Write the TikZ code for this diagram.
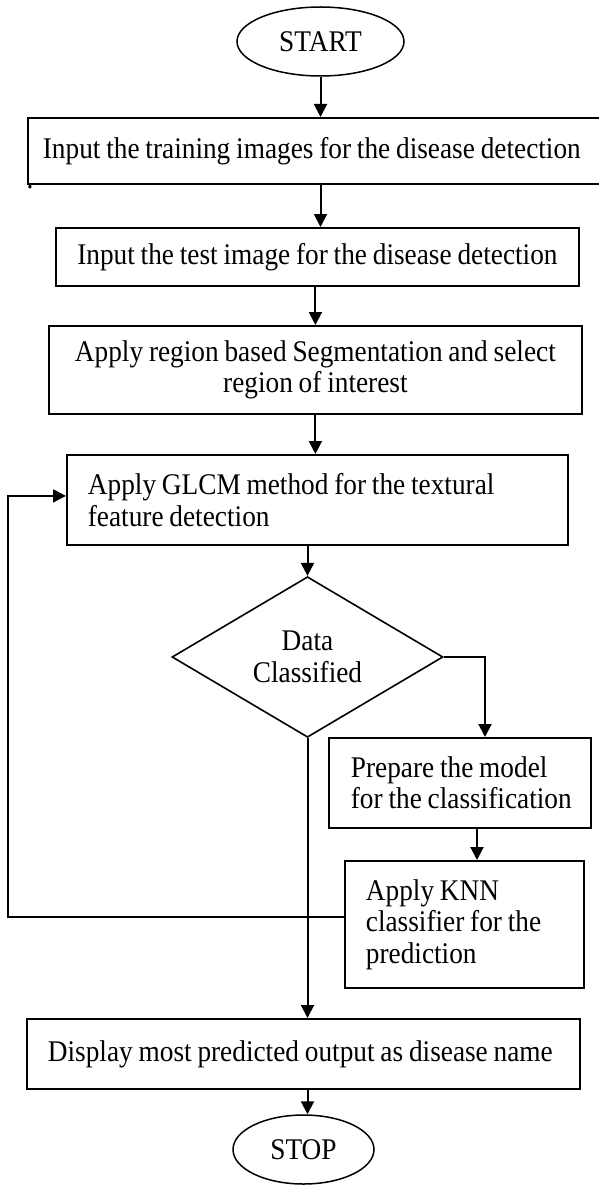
\documentclass[tikz,border=0pt]{standalone}
\usepackage{fontspec}
\setmainfont[FakeStretch=0.91,WordSpace=0.85]{Liberation Serif}
\usetikzlibrary{shapes.geometric,arrows.meta,calc}
\newcommand{\oneline}[1]{\mbox{#1}}
\begin{document}
\begin{tikzpicture}[x=1pt,y=1pt,
  every node/.style={font=\fontsize{30}{31.5}\selectfont},
  box/.style={draw, line width=1.8pt, rectangle, anchor=north west, inner ysep=0pt},
  term/.style={draw, line width=1.5pt, ellipse, inner sep=0pt},
  dec/.style={draw, line width=1.6pt, diamond, inner sep=0pt, align=center},
  arr/.style={line width=2pt, -{Triangle[width=13pt,length=13pt]}}
]
\useasboundingbox (0,0) rectangle (599,-1185);

\node[term, minimum width=167pt, minimum height=69pt] (start) at (320.5,-41.5) {START};

\node[box, inner xsep=15pt, text width=563pt, minimum height=66pt, align=flush left] (b1) at (27,-117)
  {\oneline{Input the training images for the disease detection}};
\node[anchor=base] (dot) at (30,-189) {.};

\node[box, inner xsep=8pt, text width=507pt, minimum height=58pt, align=flush center] (b2) at (55,-227)
  {\oneline{Input the test image for the disease detection}};

\node[box, inner xsep=8pt, text width=517pt, minimum height=88pt, align=flush center] (b3) at (48,-325)
  {\oneline{Apply region based Segmentation and select}\\\oneline{region of interest}};

\node[box, inner xsep=21pt, text width=459pt, minimum height=90pt, align=flush left] (b4) at (66,-454)
  {\oneline{Apply GLCM method for the textural}\\\oneline{feature detection}};

\node[dec, minimum width=271pt, minimum height=140pt] (dia) at (307.5,-657) {Data\\Classified};

\node[box, inner xsep=22pt, text width=218pt, minimum height=90pt, align=flush left] (prep) at (328,-737)
  {\oneline{Prepare the model}\\\oneline{for the classification}};

\node[box, inner xsep=21pt, text width=197pt, minimum height=127pt, align=flush left] (knn) at (344,-860)
  {\oneline{Apply KNN}\\\oneline{classifier for the}\\\oneline{prediction}};

\node[box, inner xsep=21pt, text width=511pt, minimum height=70pt, align=flush left] (disp) at (26,-1018)
  {\oneline{Display most predicted output as disease name}};

\node[term, minimum width=141pt, minimum height=69pt] (stop) at (303.5,-1149.5) {STOP};

% connectors
\coordinate (c1) at (485,-657);
\coordinate (c2) at (477,-827);
\coordinate (fb) at (8,-917);

\draw[arr] (start.south) -- (start.south |- b1.north);
\draw[arr] (start.south |- b1.south) -- (start.south |- b2.north);
\draw[arr] (b3.north |- b2.south) -- (b3.north);
\draw[arr] (b3.south) -- (b3.south |- b4.north);
\draw[arr] (dia.north |- b4.south) -- (dia.north);
\draw[arr] (dia.east) -- (c1) -- (c1 |- prep.north);
\draw[arr] (c2 |- prep.south) -- (c2 |- knn.north);
\draw[arr] (dia.south) -- (dia.south |- disp.north);
\draw[arr] (knn.west |- fb) -- (fb) |- ([yshift=4pt]b4.west);
\draw[arr] (dia.south |- disp.south) -- (dia.south |- stop.north);
\end{tikzpicture}
\end{document}
